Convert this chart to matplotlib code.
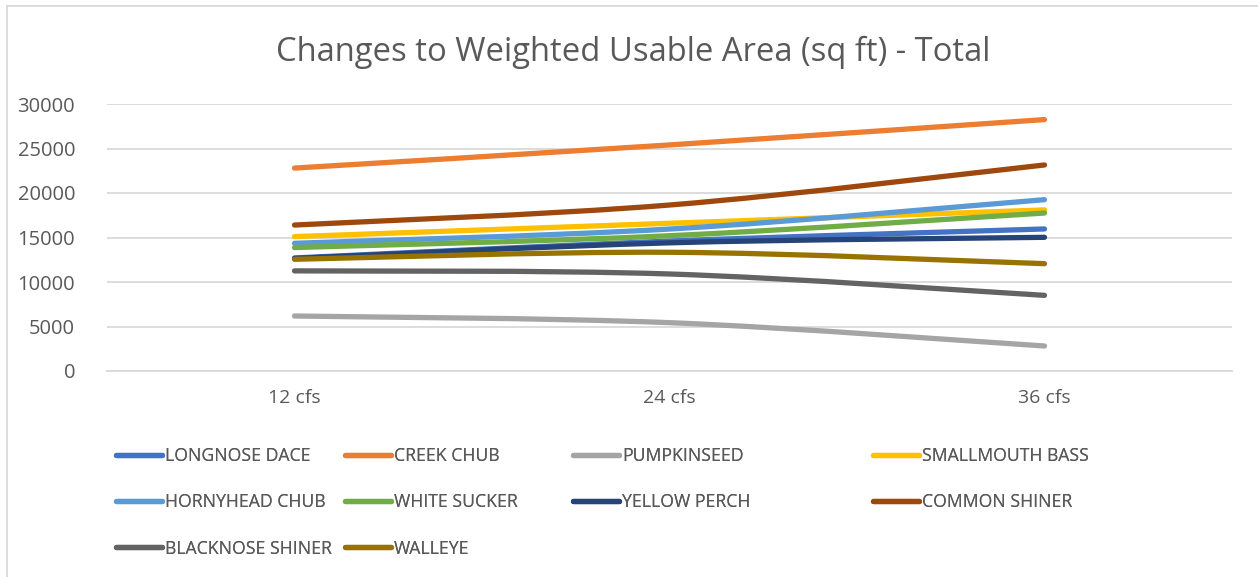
import matplotlib
matplotlib.use("Agg")
import matplotlib.pyplot as plt
from matplotlib.path import Path
from matplotlib.patches import PathPatch
from matplotlib.lines import Line2D
import numpy as np

categories = ["12 cfs", "24 cfs", "36 cfs"]
series_names = ["LONGNOSE DACE", "CREEK CHUB", "PUMPKINSEED", "SMALLMOUTH BASS",
                "HORNYHEAD CHUB", "WHITE SUCKER", "YELLOW PERCH", "COMMON SHINER",
                "BLACKNOSE SHINER", "WALLEYE"]
longnose_dace = [12700, 14600, 15960]
creek_chub = [22800, 25400, 28250]
pumpkinseed = [6180, 5430, 2810]
smallmouth_bass = [15100, 16600, 18100]
hornyhead_chub = [14350, 15950, 19250]
white_sucker = [13870, 15200, 17750]
yellow_perch = [12650, 14400, 15020]
common_shiner = [16400, 18650, 23150]
blacknose_shiner = [11250, 10900, 8500]
walleye = [12550, 13340, 12060]
series_values = [longnose_dace, creek_chub, pumpkinseed, smallmouth_bass,
                 hornyhead_chub, white_sucker, yellow_perch, common_shiner,
                 blacknose_shiner, walleye]
colors = ["#4472C4", "#ED7D31", "#A5A5A5", "#FFC000", "#5B9BD5", "#70AD47",
          "#264478", "#9E480E", "#636363", "#997300"]
yticks = [0, 5000, 10000, 15000, 20000, 25000, 30000]

FONT = ["Open Sans", "DejaVu Sans"]
TXT = "#595959"
GRID = "#D9D9D9"
W, H = 1258, 577

fig = plt.figure(figsize=(W / 100, H / 100), dpi=100)
ax = fig.add_axes([107 / W, 1 - 371 / H, (1232 - 107) / W, (371 - 104) / H])
ax.set_xlim(-0.5, 2.5)
ax.set_ylim(0, 30000)


def smooth_path(xs, ys):
    pts = np.column_stack([xs, ys]).astype(float)
    n = len(pts)
    verts = [pts[0]]
    codes = [Path.MOVETO]
    for i in range(n - 1):
        p0 = pts[i - 1] if i > 0 else pts[i]
        p1 = pts[i]
        p2 = pts[i + 1]
        p3 = pts[i + 2] if i + 2 < n else pts[i + 1]
        c1 = p1 + (p2 - p0) / 6.0
        c2 = p2 - (p3 - p1) / 6.0
        verts += [c1, c2, p2]
        codes += [Path.CURVE4] * 3
    return Path(verts, codes)


xs = np.arange(len(categories))
handles = []
for name, vals, c in zip(series_names, series_values, colors):
    patch = PathPatch(smooth_path(xs, vals), facecolor="none", edgecolor=c,
                      lw=3.8, capstyle="round", joinstyle="round", zorder=3)
    ax.add_patch(patch)
    handles.append(Line2D([], [], color=c, lw=3.8, solid_capstyle="round"))

ax.set_yticks(yticks)
ax.set_xticks(xs)
ax.set_xticklabels(categories)
ax.grid(axis="y", color=GRID, lw=1.3)
ax.set_axisbelow(True)
for s in ["left", "right", "top"]:
    ax.spines[s].set_visible(False)
ax.spines["bottom"].set_color(GRID)
ax.spines["bottom"].set_linewidth(1.3)
ax.tick_params(axis="both", length=0, labelcolor=TXT)
ax.tick_params(axis="y", pad=23, labelsize=14.5)
ax.tick_params(axis="x", pad=13, labelsize=14)
for lab in ax.get_xticklabels() + ax.get_yticklabels():
    lab.set_family(FONT)

fig.text(633 / W, 1 - 52 / H, "Changes to Weighted Usable Area (sq ft) - Total",
         ha="center", va="center", fontsize=23.6, color=TXT, family=FONT)

# legend, Excel row-major order across 4 columns
col_x = [113, 342, 570, 870]
ncol = 4
for ci in range(ncol):
    idx = list(range(ci, len(series_names), ncol))
    leg = fig.legend([handles[i] for i in idx], [series_names[i] for i in idx],
                     loc="upper left", bbox_to_anchor=(col_x[ci] / W - 0.0035, 1 - 440 / H),
                     frameon=False, handlelength=2.6, handletextpad=0.2,
                     labelspacing=1.6, borderaxespad=0,
                     prop={"family": FONT, "size": 12.7})
    for t in leg.get_texts():
        t.set_color(TXT)
    fig.add_artist(leg)

# chart border (left and top visible)
fig.add_artist(Line2D([7 / W, 7 / W], [0, 1 - 6 / H], color=GRID, lw=1.3))
fig.add_artist(Line2D([7 / W, 1], [1 - 6 / H, 1 - 6 / H], color=GRID, lw=1.3))

fig.savefig("out.png", dpi=100)
